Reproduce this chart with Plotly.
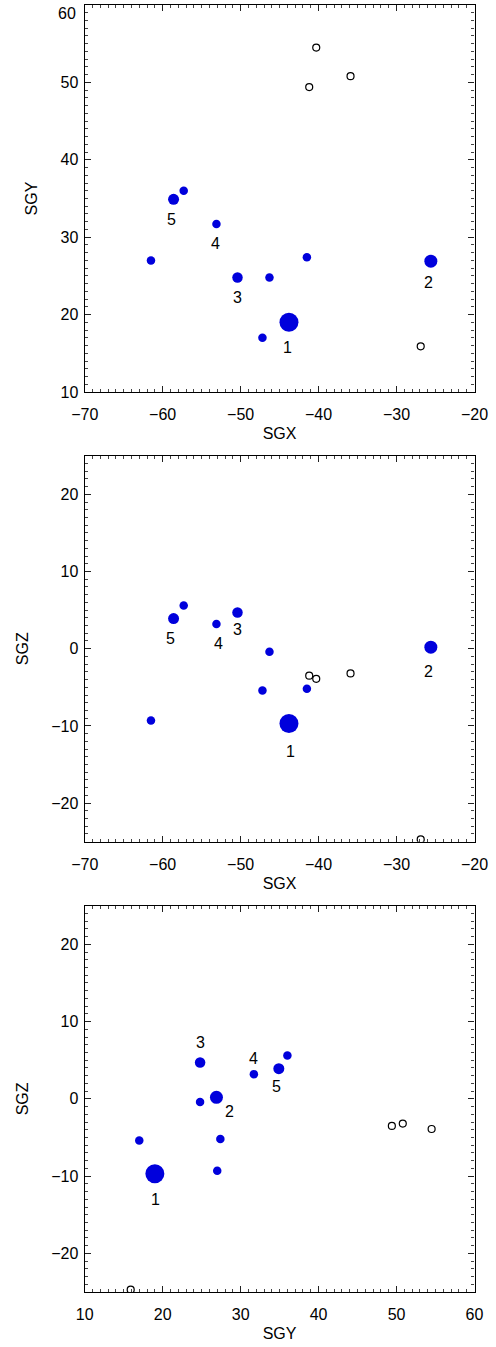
import plotly.graph_objects as go

# Supergalactic coordinates of the group members (filled) and background objects (open)
sgx = [-61.5, -58.6, -57.3, -53.1, -50.4, -46.3, -47.2, -43.8, -41.5, -25.6]
sgy = [27.0, 34.9, 36.0, 31.7, 24.8, 24.8, 17.0, 19.0, 27.4, 26.9]
sgz = [-9.3, 3.9, 5.6, 3.2, 4.7, -0.4, -5.4, -9.7, -5.2, 0.2]
marker_px = [8.5, 11, 8.5, 8.5, 10.5, 8.5, 8.5, 19, 8.5, 13]
rank = ["", "5", "", "4", "3", "", "", "1", "", "2"]

open_sgx = [-26.9, -40.3, -35.9, -41.2]
open_sgy = [15.9, 54.5, 50.8, 49.4]
open_sgz = [-24.7, -3.9, -3.2, -3.5]

# tick values per axis
ticks_sgx = [-70, -60, -50, -40, -30, -20]
ticks_sgy = [10, 20, 30, 40, 50, 60]
ticks_sgz = [-20, -10, 0, 10, 20]

# label pixel offsets (dx, dy) per panel for ranked objects
offsets_xy = {"5": (-2, -20), "4": (-1, -19), "3": (0, -20), "1": (-1, -25), "2": (-2, -21)}
offsets_xz = {"5": (-3, -20), "4": (2, -19), "3": (0, -17), "1": (2, -28), "2": (-2, -24)}
offsets_yz = {"5": (-2, -18), "4": (0, 16), "3": (0, 20), "1": (1, -26), "2": (13, -14)}

W, H = 496, 1347
FONT = "Liberation Sans, Arial, sans-serif"
BLUE = "#0000dc"

x_dom = [84.7 / W, 474.5 / W]
panels_px = [(5, 392), (455.7, 841.7), (905.7, 1292)]
y_doms = [[1 - b / H, 1 - t / H] for t, b in panels_px]


def fmt(v):
    return ("\u2212" + str(-v)) if v < 0 else str(v)


fig = go.Figure()

panel_defs = [
    (sgx, sgy, open_sgx, open_sgy, offsets_xy, "SGX", "SGY", [-70, -20], [10, 60], ticks_sgx, ticks_sgy),
    (sgx, sgz, open_sgx, open_sgz, offsets_xz, "SGX", "SGZ", [-70, -20], [-25, 25], ticks_sgx, ticks_sgz),
    (sgy, sgz, open_sgy, open_sgz, offsets_yz, "SGY", "SGZ", [10, 60], [-25, 25], ticks_sgy, ticks_sgz),
]

annotations = []
for i, (xs, ys, oxs, oys, offs, xt, yt, xr, yr, xtv, ytv) in enumerate(panel_defs):
    n = "" if i == 0 else str(i + 1)
    xa, ya = "x" + n, "y" + n
    fig.add_trace(go.Scatter(
        x=oxs, y=oys, mode="markers", xaxis=xa, yaxis=ya,
        marker=dict(size=7, color="rgba(0,0,0,0)", opacity=1,
                    line=dict(color="black", width=1.2)),
        showlegend=False, hoverinfo="skip"))
    fig.add_trace(go.Scatter(
        x=xs, y=ys, mode="markers", xaxis=xa, yaxis=ya,
        marker=dict(size=marker_px, color=BLUE, opacity=1, line=dict(width=0)),
        showlegend=False, hoverinfo="skip"))
    for xv, yv, r in zip(xs, ys, rank):
        if not r:
            continue
        dx, dy = offs[r]
        annotations.append(dict(
            x=xv, y=yv, xref=xa, yref=ya, text=r, showarrow=False,
            xshift=dx, yshift=dy, font=dict(family=FONT, size=16, color="black")))

    # y tick labels; the one at the very top edge of the page is set just below its tick
    ytext = []
    for v in ytv:
        if i == 0 and v == yr[1]:
            ytext.append("")
            annotations.append(dict(
                x=0, y=v, xref="paper", yref=ya, text=fmt(v), showarrow=False,
                xanchor="right", yanchor="middle", xshift=78, yshift=-8,
                font=dict(family=FONT, size=16, color="black")))
        else:
            ytext.append(fmt(v))

    axis_common = dict(
        showline=True, linecolor="black", linewidth=1.3, mirror="allticks",
        ticks="inside", ticklen=6, tickwidth=1, tickcolor="#222",
        showgrid=False, zeroline=False, fixedrange=True,
        tickfont=dict(family=FONT, size=16, color="black"),
        ticklabeloverflow="allow",
        minor=dict(ticks="inside", ticklen=3, dtick=1, tickcolor="#444", showgrid=False),
        automargin=False,
    )
    fig.layout["xaxis" + n] = dict(
        axis_common, domain=x_dom, range=xr,
        tickmode="array", tickvals=xtv, ticktext=[fmt(v) for v in xtv],
        anchor=ya,
        ticklabelstandoff=8,
        title=dict(text=xt, standoff=5, font=dict(family=FONT, size=16, color="black")))
    fig.layout["yaxis" + n] = dict(
        axis_common, domain=y_doms[i], range=yr,
        tickmode="array", tickvals=ytv, ticktext=ytext,
        anchor=xa,
        ticklabelstandoff=2,
        title=dict(text=yt, standoff=18, font=dict(family=FONT, size=16, color="black")))

fig.update_layout(
    width=W, height=H,
    margin=dict(l=0, r=0, t=0, b=0),
    paper_bgcolor="white", plot_bgcolor="white",
    annotations=annotations,
)

fig.write_html("out.html")
